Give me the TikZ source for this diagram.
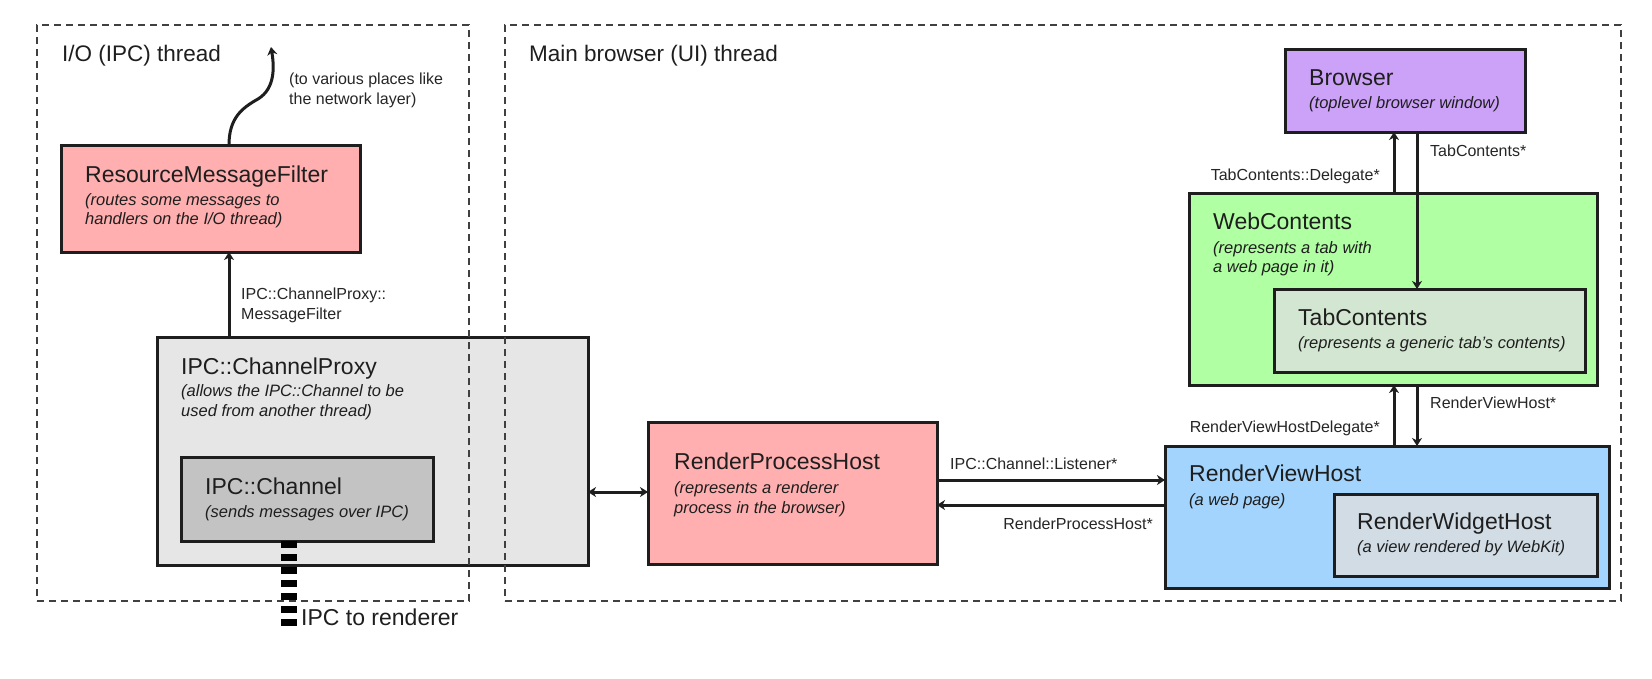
\documentclass[tikz,border=0pt]{standalone}
\usepackage{fontspec}
\setmainfont{Liberation Sans}
\usetikzlibrary{arrows.meta}
\definecolor{pinkf}{HTML}{FFAFAF}
\definecolor{cpf}{HTML}{E6E6E6}
\definecolor{chf}{HTML}{C3C3C3}
\definecolor{brf}{HTML}{CCA2F8}
\definecolor{wcf}{HTML}{B0FFA2}
\definecolor{tcf}{HTML}{D3E6D1}
\definecolor{rvhf}{HTML}{A2D4FD}
\definecolor{rwhf}{HTML}{D1DCE5}
\definecolor{ink}{HTML}{1E1E1E}
\begin{document}
\begin{tikzpicture}[x=1pt,y=-1pt,
  box/.style={draw=ink, line width=3pt, anchor=north west, inner sep=0pt, outer sep=0pt},
  region/.style={draw=black!75, line width=1.4pt, dash pattern=on 7pt off 5pt, anchor=north west, inner sep=0pt, outer sep=0pt},
  ttl/.style={anchor=base west, inner sep=0pt, font=\fontsize{23}{27}\selectfont, text=ink},
  sub/.style={anchor=base west, inner sep=0pt, font=\fontsize{16.5}{20}\selectfont\itshape, text=ink},
  lbl/.style={anchor=base west, inner sep=0pt, font=\fontsize{16}{20}\selectfont, text=black!85},
  arr/.style={draw=ink, line width=3pt, -{Stealth[length=8pt,width=10pt,inset=2.5pt]}},
  dbl/.style={draw=ink, line width=3pt, {Stealth[length=8pt,width=10pt,inset=2.5pt]}-{Stealth[length=8pt,width=10pt,inset=2.5pt]}},
]
\useasboundingbox[fill=white] (0,0) rectangle (1652,678);

% boxes
\node[box, fill=pinkf, minimum width=299pt, minimum height=107pt] (rmf) at (61,145) {};
\node[box, fill=cpf, minimum width=431pt, minimum height=228pt] (cp) at (157,337) {};
\node[box, fill=chf, minimum width=252pt, minimum height=84pt] (ch) at (181,457) {};
\node[box, fill=pinkf, minimum width=289pt, minimum height=142pt] (rph) at (648,422) {};
\node[box, fill=rvhf, minimum width=444pt, minimum height=142pt] (rvh) at (1165,446) {};
\node[box, fill=rwhf, minimum width=263pt, minimum height=82pt] (rwh) at (1334,494) {};
\node[box, fill=wcf, minimum width=408pt, minimum height=192pt] (wc) at (1189,193) {};
\node[box, fill=tcf, minimum width=311pt, minimum height=83pt] (tc) at (1274,289) {};
\node[box, fill=brf, minimum width=240pt, minimum height=83pt] (br) at (1285,49) {};

% regions
\node[region, minimum width=432pt, minimum height=576pt] (io) at (37,25) {};
\node[region, minimum width=1116pt, minimum height=576pt] (ui) at (505,25) {};
\node[ttl, font=\fontsize{22.5}{27}\selectfont] (iot) at (62,61) {I/O (IPC) thread};
\node[ttl, font=\fontsize{22.5}{27}\selectfont] (uit) at (529,61) {Main browser (UI) thread};

% box texts
\node[ttl] (rmft) at (85,182) {ResourceMessageFilter};
\node[sub] (rmfs1) at (85,205) {(routes some messages to};
\node[sub] (rmfs2) at (85,224) {handlers on the I/O thread)};

\node[ttl] (cpt) at (181,374) {IPC::ChannelProxy};
\node[sub] (cps1) at (181,396) {(allows the IPC::Channel to be};
\node[sub] (cps2) at (181,416) {used from another thread)};

\node[ttl] (cht) at (205,494) {IPC::Channel};
\node[sub] (chs1) at (205,517) {(sends messages over IPC)};

\node[ttl] (rpht) at (674,469) {RenderProcessHost};
\node[sub] (rphs1) at (674,493) {(represents a renderer};
\node[sub] (rphs2) at (674,513) {process in the browser)};

\node[ttl] (rvht) at (1189,481) {RenderViewHost};
\node[sub] (rvhs1) at (1189,505) {(a web page)};

\node[ttl] (rwht) at (1357,529) {RenderWidgetHost};
\node[sub] (rwhs1) at (1357,552) {(a view rendered by WebKit)};

\node[ttl] (wct) at (1213,229) {WebContents};
\node[sub] (wcs1) at (1213,253) {(represents a tab with};
\node[sub] (wcs2) at (1213,272) {a web page in it)};

\node[ttl] (tct) at (1298,325) {TabContents};
\node[sub] (tcs1) at (1298,348) {(represents a generic tab's contents)};

\node[ttl] (brt) at (1309,85) {Browser};
\node[sub] (brs1) at (1309,108) {(toplevel browser window)};

% connectors
\coordinate (net) at (271,47);
\draw[arr] (rmf.north -| 229,0) .. controls (229,118) and (242,108) .. (258,99)
  .. controls (276,88) and (274,65) .. (net);
\node[lbl] (netl1) at (289,84) {(to various places like};
\node[lbl] (netl2) at (289,104) {the network layer)};

\draw[arr] (cp.north -| 229,0) -- (rmf.south -| 229,0);
\node[lbl] (mfl1) at (241,299) {IPC::ChannelProxy::};
\node[lbl] (mfl2) at (241,319) {MessageFilter};

\draw[dbl] (cp.east |- 0,492) -- (rph.west |- 0,492);

\draw[arr] (rph.east |- 0,480) -- (rvh.west |- 0,480);
\draw[arr] (rvh.west |- 0,505) -- (rph.east |- 0,505);
\node[lbl] (lis) at (950,469) {IPC::Channel::Listener*};
\node[lbl, anchor=base east] (rphl) at (1153,529) {RenderProcessHost*};

\draw[arr] (wc.north -| 1394,0) -- (br.south -| 1394,0);
\draw[arr] (br.south -| 1417,0) -- (tc.north -| 1417,0);
\node[lbl, anchor=base east] (tcdl) at (1380,180) {TabContents::Delegate*};
\node[lbl] (tcl) at (1430,156) {TabContents*};

\draw[arr] (rvh.north -| 1394,0) -- (wc.south -| 1394,0);
\draw[arr] (wc.south -| 1417,0) -- (rvh.north -| 1417,0);
\node[lbl, anchor=base east] (rvhdl) at (1380,432) {RenderViewHostDelegate*};
\node[lbl] (rvhl) at (1430,408) {RenderViewHost*};

% IPC to renderer
\coordinate (ipcend) at (289,626);
\draw[draw=black, line width=16pt, dash pattern=on 7pt off 6pt] (ch.south -| 289,0) -- (ipcend);
\node[ttl] (ipcl) at (301,625) {IPC to renderer};
\end{tikzpicture}
\end{document}
